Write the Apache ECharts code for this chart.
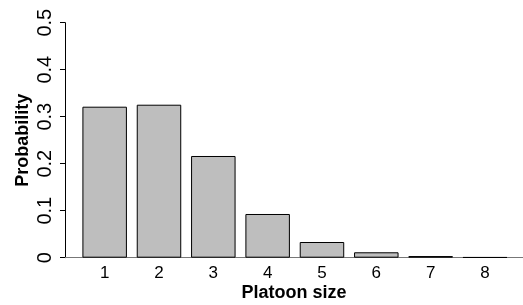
<!DOCTYPE html>
<html>
<head>
    <meta charset="utf-8">
    <title>Platoon size</title>
    <script src="https://cdn.jsdelivr.net/npm/echarts@6/dist/echarts.min.js"></script>
    <style>
        body { margin: 0; background-color: #ffffff; }
        #chart { width: 523px; height: 305px; }
    </style>
</head>
<body>
    <div id="chart"></div>
    <script>
        // platoon sizes and their probabilities
        var sizes = [1, 2, 3, 4, 5, 6, 7, 8];
        var probs = [0.3213, 0.3255, 0.2164, 0.093, 0.0334, 0.0115, 0.0035, 0.001];
        var yTicks = [0, 0.1, 0.2, 0.3, 0.4, 0.5];

        var barData = [];
        for (let i = 0; i < sizes.length; i++) {
            barData.push([sizes[i], probs[i]]);
        }

        var chart = echarts.init(document.getElementById('chart'));
        var option = {
            animation: false,
            textStyle: { fontFamily: 'Liberation Sans, Arial, sans-serif' },
            grid: { left: 65, right: 0, top: 22.7, bottom: 47.3, outerBoundsMode: 'none' },
            xAxis: {
                type: 'value',
                min: 0.27,
                max: 8.7,
                name: 'Platoon size',
                nameLocation: 'middle',
                nameGap: 26.5,
                nameMoveOverlap: false,
                nameTextStyle: { fontSize: 18, fontWeight: 'bold', color: '#000' },
                axisLine: { show: true, lineStyle: { color: '#777', width: 1 } },
                axisTick: { show: false },
                splitLine: { show: false },
                axisLabel: {
                    customValues: sizes,
                    fontSize: 17,
                    color: '#000',
                    margin: 7.5
                }
            },
            yAxis: {
                type: 'value',
                min: 0,
                max: 0.5,
                interval: 0.1,
                name: 'Probability',
                nameLocation: 'middle',
                nameGap: 33,
                nameMoveOverlap: false,
                nameTextStyle: { fontSize: 18, fontWeight: 'bold', color: '#000' },
                axisLine: { show: true, lineStyle: { color: '#000', width: 1 } },
                axisTick: { show: true, length: 5, lineStyle: { color: '#000' } },
                splitLine: { show: false },
                axisLabel: {
                    customValues: yTicks,
                    rotate: 90,
                    fontSize: 20,
                    color: '#000',
                    margin: 10,
                    formatter: function (v) { return String(+v.toFixed(1)); }
                }
            },
            series: [{
                type: 'bar',
                data: barData,
                barWidth: 44.5,
                itemStyle: { color: '#bebebe', borderColor: '#000', borderWidth: 1 }
            }]
        };
        chart.setOption(option);
    </script>
</body>
</html>
